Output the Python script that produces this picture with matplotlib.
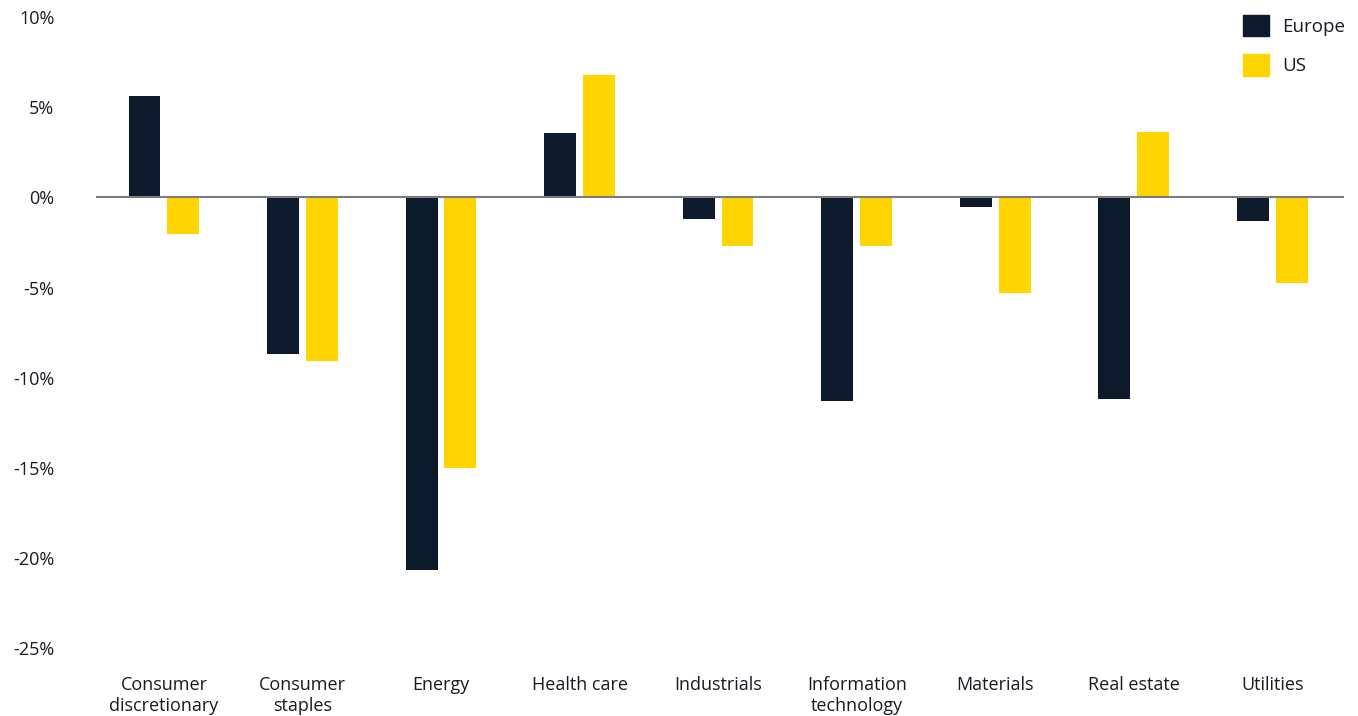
import matplotlib
matplotlib.use("Agg")
import matplotlib.pyplot as plt
from matplotlib.patches import Patch
import numpy as np

categories = ["Consumer\ndiscretionary", "Consumer\nstaples", "Energy", "Health care",
              "Industrials", "Information\ntechnology", "Materials", "Real estate", "Utilities"]
europe = [5.6, -8.7, -20.7, 3.55, -1.2, -11.3, -0.55, -11.2, -1.3]
us = [-2.05, -9.1, -15.0, 6.8, -2.7, -2.7, -5.3, 3.65, -4.75]
yticks = [10, 5, 0, -5, -10, -15, -20, -25]

c_eu = "#0C1A2C"
c_us = "#FFD500"
txt = "#1A1A24"

plt.rcParams['font.family'] = ['Open Sans', 'DejaVu Sans']

fig = plt.figure(figsize=(13.58, 7.16), dpi=100)
ax = fig.add_axes([0.0707, 0.095, 0.9193, 0.881])

x = np.arange(len(categories))
w = 0.23
off = 0.14
ax.bar(x - off, europe, w, color=c_eu, zorder=2)
ax.bar(x + off, us, w, color=c_us, zorder=2)
ax.axhline(0, color="#7A7C80", lw=1.5, zorder=3)

ax.set_xlim(-0.49, 8.52)
ax.set_ylim(-25, 10)
ax.set_yticks(yticks)
ax.set_yticklabels([f"{t}%" for t in yticks], fontsize=13, color=txt)
ax.set_xticks(x)
ax.set_xticklabels(categories, fontsize=13, color=txt, linespacing=1.2)
ax.tick_params(axis='y', length=0, pad=30)
ax.tick_params(axis='x', length=0, pad=20)
for s in ax.spines.values():
    s.set_visible(False)

handles = [Patch(color=c_eu, label="Europe"), Patch(color=c_us, label="US")]
fig.legend(handles=handles, loc="upper right", bbox_to_anchor=(1.003, 1.003),
           frameon=False, fontsize=13.5, handlelength=1.4, handleheight=1.4,
           labelspacing=0.95, handletextpad=0.7, labelcolor=txt)

fig.savefig("out.png", dpi=100)
